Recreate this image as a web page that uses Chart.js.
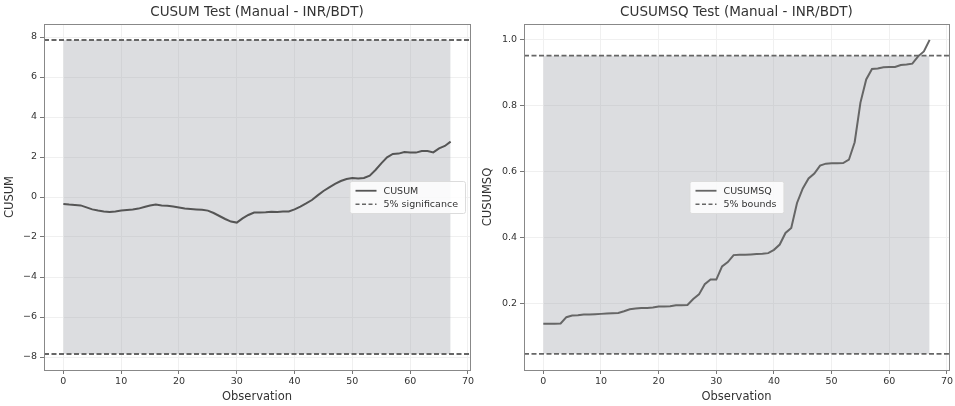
<!DOCTYPE html>
<html>
<head>
<meta charset="utf-8">
<script src="https://cdn.jsdelivr.net/npm/chart.js@4.4.0/dist/chart.umd.min.js"></script>
<style>
  html, body { margin: 0; padding: 0; background: #fff; }
  .wrap { display: flex; width: 955px; height: 406px; }
  .box { position: relative; height: 406px; }
</style>
</head>
<body>
<div class="wrap">
  <div class="box" style="width:478px"><canvas id="cusumChart"></canvas></div>
  <div class="box" style="width:477px"><canvas id="cusumsqChart"></canvas></div>
</div>
<script>
// values, one per observation (0..67)
const cusumValues = [
  -0.35, -0.38, -0.40, -0.42, -0.52, -0.62, -0.68, -0.72, -0.75, -0.72,
  -0.68, -0.65, -0.62, -0.58, -0.50, -0.43, -0.38, -0.42, -0.44, -0.48,
  -0.53, -0.58, -0.60, -0.62, -0.64, -0.68, -0.80, -0.95, -1.10, -1.23,
  -1.28, -1.07, -0.90, -0.78, -0.77, -0.76, -0.74, -0.75, -0.73, -0.72,
  -0.62, -0.48, -0.32, -0.15, 0.08, 0.30, 0.48, 0.66, 0.80, 0.90,
  0.95, 0.93, 0.95, 1.07, 1.35, 1.68, 1.98, 2.15, 2.17, 2.25,
  2.23, 2.22, 2.30, 2.30, 2.23, 2.43, 2.55, 2.77
];
const cusumsqValues = [
  0.140, 0.140, 0.140, 0.141, 0.160, 0.165, 0.166, 0.168, 0.168, 0.169,
  0.170, 0.171, 0.172, 0.173, 0.178, 0.184, 0.186, 0.188, 0.188, 0.189,
  0.192, 0.192, 0.193, 0.196, 0.196, 0.197, 0.215, 0.229, 0.260, 0.274,
  0.274, 0.314, 0.327, 0.348, 0.349, 0.349, 0.350, 0.351, 0.352, 0.354,
  0.364, 0.380, 0.415, 0.430, 0.506, 0.550, 0.580, 0.595, 0.619, 0.625,
  0.626, 0.626, 0.627, 0.637, 0.690, 0.810, 0.880, 0.912, 0.913, 0.917,
  0.918, 0.918, 0.924, 0.925, 0.928, 0.950, 0.965, 1.000
];
const cusumBound = 7.85;
const cusumsqBounds = [0.049, 0.952];

const xTicks = [0, 10, 20, 30, 40, 50, 60, 70];
const cusumTicks = [-8, -6, -4, -2, 0, 2, 4, 6, 8];
const cusumsqTicks = [0.2, 0.4, 0.6, 0.8, 1.0];
const xRange = [-3.35, 70.35];
const cusumRange = [-8.65, 8.65];
const cusumsqRange = [0.0, 1.048];

const textColor = '#333';
const fillColor = 'rgba(150, 152, 160, 0.33)';
const lineColor = '#555';
const boundColor = '#666';
const font = 'DejaVu Sans';

// frame around the axes like matplotlib spines
const framePlugin = {
  id: 'frame',
  afterDatasetsDraw(chart) {
    const a = chart.chartArea;
    const ctx = chart.ctx;
    ctx.save();
    ctx.strokeStyle = '#888';
    ctx.lineWidth = 1;
    ctx.strokeRect(Math.round(a.left) + 0.5, Math.round(a.top) + 0.5,
      Math.round(a.right - a.left), Math.round(a.bottom - a.top));
    ctx.restore();
  }
};

// title centred over the axes, not over the whole canvas
const axesTitlePlugin = {
  id: 'axesTitle',
  afterDraw(chart, args, opts) {
    const a = chart.chartArea;
    const ctx = chart.ctx;
    ctx.save();
    ctx.font = '13.5px "' + font + '"';
    ctx.fillStyle = textColor;
    ctx.textAlign = 'center';
    ctx.textBaseline = 'middle';
    ctx.fillText(opts.text, (a.left + a.right) / 2, 12);
    ctx.restore();
  }
};

// matplotlib-like legend box
const legendBoxPlugin = {
  id: 'legendBox',
  afterDraw(chart, args, opts) {
    const ctx = chart.ctx;
    const a = chart.chartArea;
    ctx.save();
    ctx.font = '9.5px "' + font + '"';
    const textW = Math.max(...opts.items.map(it => ctx.measureText(it.label).width));
    const w = 8 + 20 + 8 + textW + 5;
    const rowH = 13.5;
    const h = rowH * opts.items.length + 5;
    let x;
    if (opts.where === 'right') {
      x = a.right - 5 - w;
    } else {
      x = (a.left + a.right) / 2 - w / 2;
    }
    const y = (a.top + a.bottom) / 2 - h / 2;
    ctx.fillStyle = 'rgba(255,255,255,0.85)';
    ctx.strokeStyle = '#dcdcdc';
    ctx.lineWidth = 1;
    ctx.beginPath();
    ctx.roundRect(x + 0.5, y + 0.5, w, h, 2);
    ctx.fill();
    ctx.stroke();
    opts.items.forEach((it, i) => {
      const cy = y + 3 + rowH * i + rowH / 2;
      ctx.strokeStyle = it.color;
      ctx.lineWidth = it.width;
      ctx.setLineDash(it.dash || []);
      ctx.beginPath();
      ctx.moveTo(x + 6, cy);
      ctx.lineTo(x + 27, cy);
      ctx.stroke();
      ctx.setLineDash([]);
      ctx.fillStyle = textColor;
      ctx.textBaseline = 'middle';
      ctx.fillText(it.label, x + 34, cy + 0.5);
    });
    ctx.restore();
  }
};

function fmtMinus(v, digits) {
  const s = Math.abs(v).toFixed(digits);
  return v < 0 ? '\u2212' + s : s;
}

function makeChart(id, cfg) {
  const n = cfg.values.length;
  const lastObs = n - 1;
  const datasets = [
    {
      label: 'fillUpper',
      data: [{ x: 0, y: cfg.upper }, { x: lastObs, y: cfg.upper }],
      borderWidth: 0,
      pointRadius: 0,
      backgroundColor: fillColor,
      fill: '+1',
      order: 3
    },
    {
      label: 'fillLower',
      data: [{ x: 0, y: cfg.lower }, { x: lastObs, y: cfg.lower }],
      borderWidth: 0,
      pointRadius: 0,
      fill: false,
      order: 3
    },
    {
      label: cfg.lineLabel,
      data: cfg.values.map((v, i) => ({ x: i, y: v })),
      borderColor: cfg.lineColor,
      borderWidth: 2,
      pointRadius: 0,
      fill: false,
      tension: 0,
      order: 0
    },
    {
      label: 'upper',
      data: [{ x: xRange[0], y: cfg.upper }, { x: xRange[1], y: cfg.upper }],
      borderColor: boundColor,
      borderWidth: 1.8,
      borderDash: [5, 2.5],
      pointRadius: 0,
      fill: false,
      order: 1
    },
    {
      label: 'lower',
      data: [{ x: xRange[0], y: cfg.lower }, { x: xRange[1], y: cfg.lower }],
      borderColor: boundColor,
      borderWidth: 1.8,
      borderDash: [5, 2.5],
      pointRadius: 0,
      fill: false,
      order: 1
    }
  ];

  return new Chart(document.getElementById(id).getContext('2d'), {
    type: 'line',
    data: { datasets: datasets },
    plugins: [framePlugin, legendBoxPlugin, axesTitlePlugin],
    options: {
      responsive: true,
      maintainAspectRatio: false,
      animation: false,
      layout: { padding: { right: cfg.padRight, left: 0, top: 24, bottom: 0 } },
      plugins: {
        legend: { display: false },
        tooltip: { enabled: false },
        title: { display: false },
        axesTitle: { text: cfg.title },
        legendBox: {
          where: cfg.legendWhere,
          items: [
            { label: cfg.lineLabel, color: cfg.lineColor, width: 1.8 },
            { label: cfg.boundLabel, color: boundColor, width: 1.4, dash: [4, 2.5] }
          ]
        }
      },
      scales: {
        x: {
          type: 'linear',
          min: xRange[0],
          max: xRange[1],
          afterBuildTicks: s => { s.ticks = xTicks.map(v => ({ value: v })); },
          afterFit: s => { s.height = 36; },
          ticks: {
            color: textColor,
            font: { family: font, size: 9.5 },
            padding: 2,
            maxRotation: 0,
            callback: v => String(v)
          },
          grid: { color: '#f0f0f0', tickColor: '#777', tickLength: 4, lineWidth: 1 },
          border: { display: false },
          title: {
            display: true,
            text: 'Observation',
            color: textColor,
            font: { family: font, size: 11.5 },
            padding: { top: 0, bottom: 2 }
          }
        },
        y: {
          type: 'linear',
          min: cfg.yRange[0],
          max: cfg.yRange[1],
          afterBuildTicks: s => { s.ticks = cfg.yTicks.map(v => ({ value: v })); },
          afterFit: s => { s.width = cfg.yWidth; },
          ticks: {
            color: textColor,
            font: { family: font, size: 9.5 },
            padding: 3,
            callback: v => fmtMinus(v, cfg.digits)
          },
          grid: { color: '#f0f0f0', tickColor: '#777', tickLength: 4, lineWidth: 1 },
          border: { display: false },
          title: {
            display: true,
            text: cfg.yLabel,
            color: textColor,
            font: { family: font, size: 11.5 },
            padding: { top: 3, bottom: 0 }
          }
        }
      }
    }
  });
}

makeChart('cusumChart', {
  title: 'CUSUM Test (Manual - INR/BDT)',
  values: cusumValues,
  upper: cusumBound,
  lower: -cusumBound,
  lineLabel: 'CUSUM',
  boundLabel: '5% significance',
  lineColor: lineColor,
  yLabel: 'CUSUM',
  yRange: cusumRange,
  yTicks: cusumTicks,
  digits: 0,
  yWidth: 44,
  padRight: 8,
  legendWhere: 'right'
});

makeChart('cusumsqChart', {
  title: 'CUSUMSQ Test (Manual - INR/BDT)',
  values: cusumsqValues,
  upper: cusumsqBounds[1],
  lower: cusumsqBounds[0],
  lineLabel: 'CUSUMSQ',
  boundLabel: '5% bounds',
  lineColor: '#666',
  yLabel: 'CUSUMSQ',
  yRange: cusumsqRange,
  yTicks: cusumsqTicks,
  digits: 1,
  yWidth: 46,
  padRight: 5,
  legendWhere: 'center'
});
</script>
</body>
</html>
